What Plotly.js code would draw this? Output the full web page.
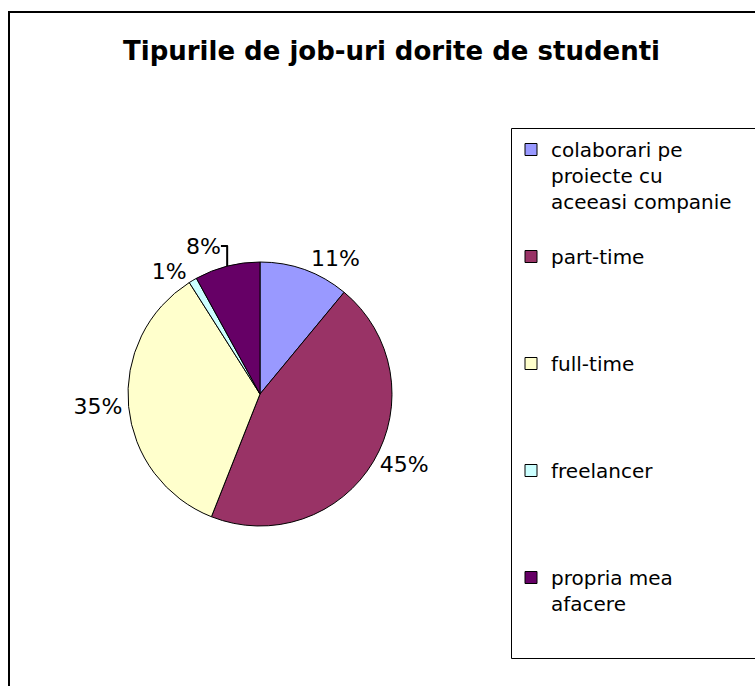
<!DOCTYPE html>
<html>
<head>
<meta charset="utf-8">
<script src="https://cdn.plot.ly/plotly-3.0.1.min.js"></script>
<style>html,body{margin:0;padding:0;background:#fff;}#chart{width:755px;height:686px;}</style>
</head>
<body>
<div id="chart"></div>
<script>
var chartTitle = "Tipurile de job-uri dorite de studenti";
var categories = [
  "colaborari pe<br>proiecte cu<br>aceeasi companie",
  "part-time",
  "full-time",
  "freelancer",
  "propria mea<br>afacere"
];
var values = [11, 45, 35, 1, 8];
var colors = ["#9999FF", "#993366", "#FFFFCC", "#CCFFFF", "#660066"];

// pad legend entries with blank lines so entries are evenly spaced like the original
var legendLines = 4;
var legendLabels = categories.map(function (c, i) {
  var n = c.split("<br>").length;
  var target = (i < categories.length - 1) ? legendLines : n;
  var s = c;
  for (var k = n; k < target; k++) s += "<br>\u00a0";
  return s;
});

var FONT = "DejaVu Sans, Verdana, sans-serif";
var W = 755, H = 686;
var trace = {
  type: "pie",
  labels: legendLabels,
  values: values,
  sort: false,
  direction: "clockwise",
  rotation: 0,
  marker: {colors: colors, line: {color: "#000000", width: 1}},
  textinfo: "percent",
  texttemplate: "%{percent:.0%}",
  textposition: "outside",
  outsidetextfont: {family: FONT, size: 22, color: "#000000"},
  hoverinfo: "label+percent",
  domain: {x: [128 / W, 392 / W], y: [1 - 526 / H, 1 - 262 / H]}
};

// legend frame: the original box runs past the right edge of the picture
var boxL = 511.5 / W, boxT = 1 - 128.5 / H, boxB = 1 - 658.5 / H;

var layout = {
  width: W, height: H,
  margin: {l: 0, r: 0, t: 0, b: 0},
  paper_bgcolor: "#ffffff",
  font: {family: FONT, color: "#000000"},
  title: {
    text: "<b>" + chartTitle + "</b>",
    font: {family: FONT, size: 26, color: "#000000"},
    x: 391.5 / W, xanchor: "center",
    y: 1 - 51 / H, yanchor: "middle"
  },
  showlegend: true,
  legend: {
    x: 511 / W, xanchor: "left",
    y: 1 - 130 / H, yanchor: "top",
    valign: "top",
    borderwidth: 0,
    bgcolor: "rgba(0,0,0,0)",
    font: {family: FONT, size: 20, color: "#000000"},
    itemclick: false
  },
  shapes: [
    {type: "line", xref: "paper", yref: "paper", x0: 9 / W, x1: 9 / W, y0: 0, y1: 1 - 11 / H,
     line: {color: "#000000", width: 2}},
    {type: "line", xref: "paper", yref: "paper", x0: 8 / W, x1: 1, y0: 1 - 12 / H, y1: 1 - 12 / H,
     line: {color: "#000000", width: 2}},
    {type: "line", xref: "paper", yref: "paper", x0: boxL, x1: boxL, y0: boxB, y1: boxT,
     line: {color: "#000000", width: 1}},
    {type: "line", xref: "paper", yref: "paper", x0: boxL, x1: 1, y0: boxT, y1: boxT,
     line: {color: "#000000", width: 1}},
    {type: "line", xref: "paper", yref: "paper", x0: boxL, x1: 1, y0: boxB, y1: boxB,
     line: {color: "#000000", width: 1}}
  ]
};

Plotly.newPlot("chart", [trace], layout, {displayModeBar: false, staticPlot: true});
</script>
</body>
</html>
